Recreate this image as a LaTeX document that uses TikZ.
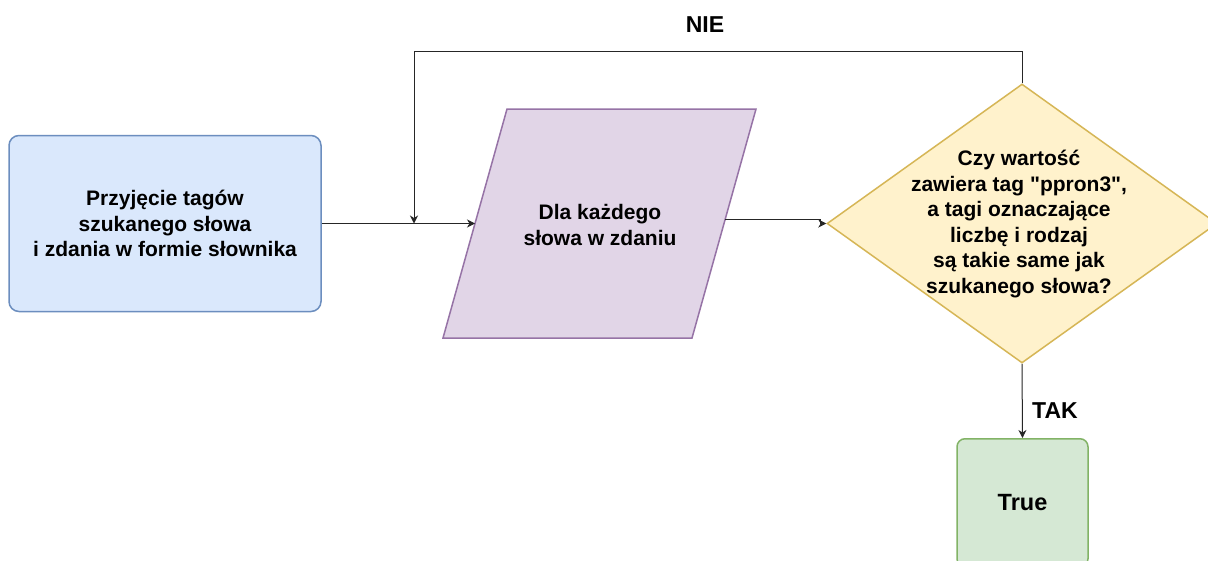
\documentclass[tikz,border=0pt]{standalone}
\usepackage{fontspec}
\setmainfont{Liberation Sans}[Ligatures=TeXOff]
\usetikzlibrary{shapes.geometric,arrows.meta}

\definecolor{inFill}{HTML}{DAE8FC}
\definecolor{inLine}{HTML}{6C8EBF}
\definecolor{loopFill}{HTML}{E1D5E7}
\definecolor{loopLine}{HTML}{9673A6}
\definecolor{testFill}{HTML}{FFF2CC}
\definecolor{testLine}{HTML}{D6B656}
\definecolor{okFill}{HTML}{D5E8D4}
\definecolor{okLine}{HTML}{82B366}

\begin{document}
\begin{tikzpicture}[x=1pt,y=-1pt,
  txt/.style={font=\bfseries\fontsize{21}{25.6}\selectfont, align=center, text=black, inner sep=0pt},
  lbl/.style={font=\bfseries\fontsize{23}{27}\selectfont, text=black, inner sep=0pt},
  shapeline/.style={line width=1.5pt},
  flow/.style={line width=1pt, draw=black!85, -{Stealth[length=8pt,width=8pt,inset=2.5pt]}}
]
\clip (0,0) rectangle (1208,560);
\fill[white] (0,0) rectangle (1208,560);

% input: rounded process box
\node[txt, shapeline, draw=inLine, fill=inFill, rounded corners=10pt,
      minimum width=312pt, minimum height=176pt] (input) at (165,223.5)
  {Przyjęcie tagów\\szukanego słowa\\i zdania w formie słownika};

% loop: parallelogram
\coordinate (pTL) at (507,109);
\coordinate (pTR) at (756,109);
\coordinate (pBR) at (692,338);
\coordinate (pBL) at (443,338);
\filldraw[shapeline, draw=loopLine, fill=loopFill] (pTL) -- (pTR) -- (pBR) -- (pBL) -- cycle;
\node[txt] (loop) at (600,225) {Dla każdego\\słowa w zdaniu};
\coordinate (loopIn) at (475,223.5);
\coordinate (loopOut) at (725,219);

% decision
\node[diamond, shapeline, draw=testLine, fill=testFill, inner sep=0pt,
      minimum width=390pt, minimum height=279pt] (test) at (1022,223.5) {};
\node[txt] (testText) at (1019,224)
  {Czy wartość\\zawiera tag "ppron3",\\a tagi oznaczające\\liczbę i rodzaj\\są takie same jak\\szukanego słowa?};

% result
\node[shapeline, draw=okLine, fill=okFill, rounded corners=8pt,
      minimum width=131pt, minimum height=128pt, anchor=north,
      font=\bfseries\fontsize{23.5}{28}\selectfont] (result) at (1022.5,438) {True};

% connectors
\coordinate (join) at (414,223.5);
\draw[flow] (input.east) -- (loopIn);
\draw[flow] (loopOut) -- ++(95,0) |- (test.west);
\draw[flow] (test.north) -- ++(0,-32) -| (join);
\draw[flow] (test.south) -- (result.north);

% branch labels
\node[lbl] (no) at (705,25) {NIE};
\node[lbl] (yes) at (1055,411) {TAK};
\end{tikzpicture}
\end{document}
